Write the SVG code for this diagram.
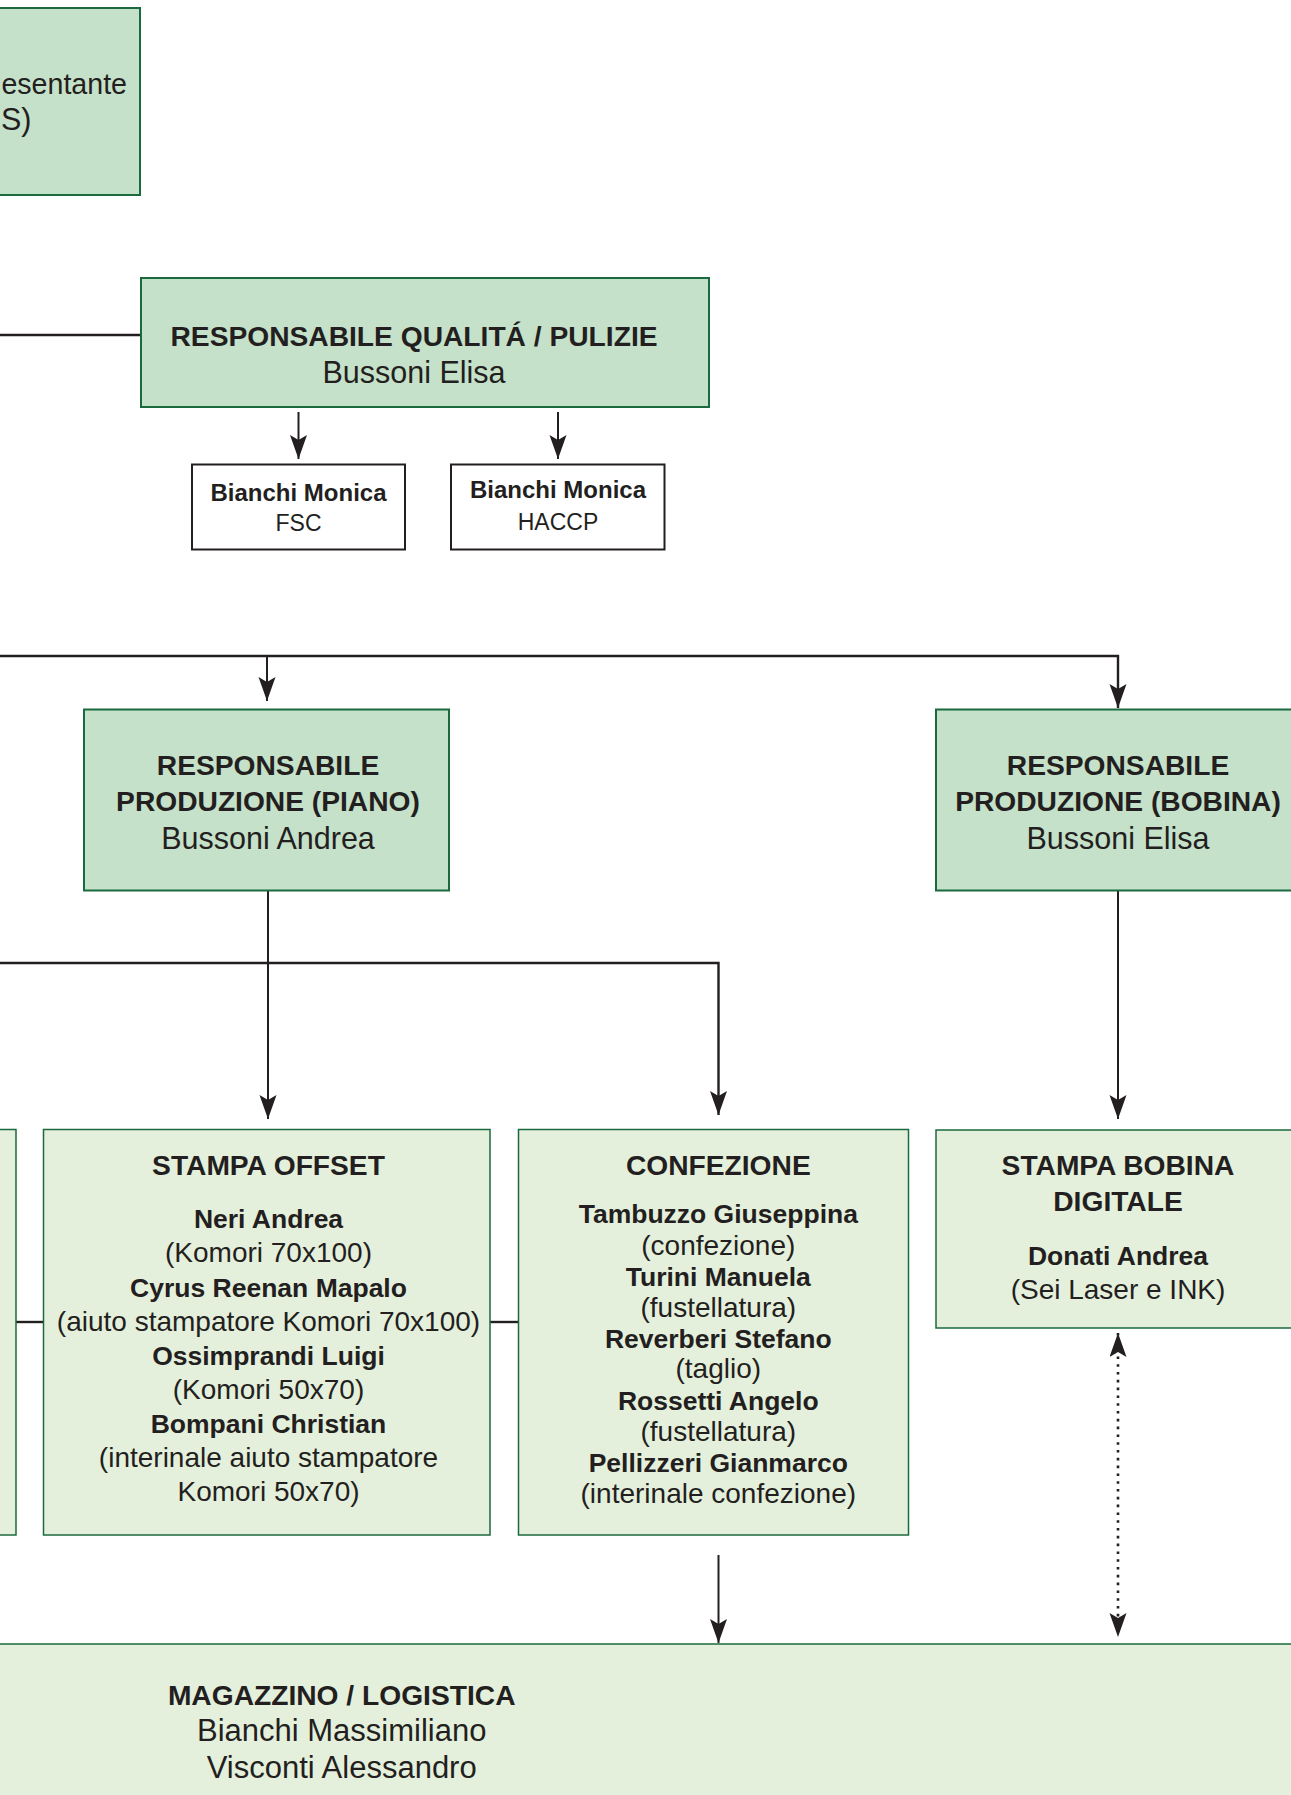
<svg xmlns="http://www.w3.org/2000/svg" width="1291" height="1795" viewBox="0 0 1291 1795">
<style>
.n1{fill:#c6e1c9;stroke:#1b6a3e;stroke-width:2}
.n2{fill:#e5f0dc;stroke:#1b6a3e;stroke-width:1.5}
.n3{fill:#ffffff;stroke:#231f20;stroke-width:2}
text{font-family:"Liberation Sans",Arial,sans-serif;fill:#231f20;text-anchor:middle}
.t{font-size:28.2px;font-weight:bold}
.nm{font-size:30.5px}
.nm2{font-size:31px}
.sb{font-size:24px;font-weight:bold}
.sr{font-size:23px}
.p{font-size:26.5px;font-weight:bold}
.d{font-size:28px}
.c{fill:none;stroke:#231f20;stroke-width:2}
.h{stroke-width:2.4}
.dot{stroke-width:2.6;stroke-dasharray:2.6 5.2}
</style>
<defs>
<marker id="ah" markerUnits="userSpaceOnUse" markerWidth="30" markerHeight="20" refX="24" refY="8.5" orient="auto-start-reverse">
<path d="M0,0 L24,8.5 L0,17 L5,8.5 Z" fill="#231f20" stroke="none"/>
</marker>
</defs>

<g id="connectors">
<path class="c h" d="M0,335 H141"/>
<path class="c" d="M298.5,412 V459" marker-end="url(#ah)"/>
<path class="c" d="M558,412 V459" marker-end="url(#ah)"/>
<path class="c h" d="M0,656 H1118 V708" marker-end="url(#ah)"/>
<path class="c" d="M267,656 V701" marker-end="url(#ah)"/>
<path class="c" d="M268,890 V1119" marker-end="url(#ah)"/>
<path class="c h" d="M0,963 H718.5 V1115" marker-end="url(#ah)"/>
<path class="c" d="M1118,890 V1119" marker-end="url(#ah)"/>
<path class="c h" d="M16,1322 H43.5"/>
<path class="c h" d="M490,1322 H518.5"/>
<path class="c" d="M718.5,1555 V1643" marker-end="url(#ah)"/>
<path class="c dot" d="M1118,1333 V1637" marker-start="url(#ah)" marker-end="url(#ah)"/>
</g>

<g id="node-rls">
<rect class="n1" x="-10" y="8" width="150" height="187"/>
<text x="127" y="94" style="text-anchor:end;font-size:28.6px">esentante</text>
<text class="nm" x="1" y="130" style="text-anchor:start">S)</text>
</g>

<g id="node-qualita">
<rect class="n1" x="141" y="278" width="568" height="129"/>
<text class="t" x="414" y="346">RESPONSABILE QUALITÁ / PULIZIE</text>
<text class="nm" x="414" y="383">Bussoni Elisa</text>
</g>

<g id="node-fsc">
<rect class="n3" x="192" y="464.5" width="213" height="85"/>
<text class="sb" x="298.5" y="501">Bianchi Monica</text>
<text class="sr" x="298.5" y="531">FSC</text>
</g>

<g id="node-haccp">
<rect class="n3" x="451" y="464.5" width="213.5" height="85"/>
<text class="sb" x="558" y="498">Bianchi Monica</text>
<text class="sr" x="558" y="530">HACCP</text>
</g>

<g id="node-piano">
<rect class="n1" x="84" y="709.5" width="365" height="181"/>
<text class="t" x="268" y="775">RESPONSABILE</text>
<text class="t" x="268" y="811">PRODUZIONE (PIANO)</text>
<text class="nm" x="268" y="849">Bussoni Andrea</text>
</g>

<g id="node-bobina">
<rect class="n1" x="936" y="709.5" width="370" height="181"/>
<text class="t" x="1118" y="775">RESPONSABILE</text>
<text class="t" x="1118" y="811">PRODUZIONE (BOBINA)</text>
<text class="nm" x="1118" y="849">Bussoni Elisa</text>
</g>

<g id="node-left">
<rect class="n2" x="-10" y="1129.5" width="26" height="405.5"/>
</g>

<g id="node-offset">
<rect class="n2" x="43.5" y="1129.5" width="446.5" height="405.5"/>
<text class="t" x="268.5" y="1174.5">STAMPA OFFSET</text>
<text class="p" x="268.5" y="1227.5">Neri Andrea</text>
<text class="d" x="268.5" y="1262">(Komori 70x100)</text>
<text class="p" x="268.5" y="1296.5">Cyrus Reenan Mapalo</text>
<text class="d" x="268.5" y="1331">(aiuto stampatore Komori 70x100)</text>
<text class="p" x="268.5" y="1364.5">Ossimprandi Luigi</text>
<text class="d" x="268.5" y="1398.5">(Komori 50x70)</text>
<text class="p" x="268.5" y="1433">Bompani Christian</text>
<text class="d" x="268.5" y="1466.5">(interinale aiuto stampatore</text>
<text class="d" x="268.5" y="1501">Komori 50x70)</text>
</g>

<g id="node-confezione">
<rect class="n2" x="518.5" y="1129.5" width="390" height="405.5"/>
<text class="t" x="718.3" y="1174.7">CONFEZIONE</text>
<text class="p" x="718.3" y="1223.3">Tambuzzo Giuseppina</text>
<text class="d" x="718.3" y="1254.7">(confezione)</text>
<text class="p" x="718.3" y="1285.7">Turini Manuela</text>
<text class="d" x="718.3" y="1316.7">(fustellatura)</text>
<text class="p" x="718.3" y="1348">Reverberi Stefano</text>
<text class="d" x="718.3" y="1378">(taglio)</text>
<text class="p" x="718.3" y="1409.7">Rossetti Angelo</text>
<text class="d" x="718.3" y="1440.7">(fustellatura)</text>
<text class="p" x="718.3" y="1472">Pellizzeri Gianmarco</text>
<text class="d" x="718.3" y="1503">(interinale confezione)</text>
</g>

<g id="node-digitale">
<rect class="n2" x="936" y="1130" width="370" height="198"/>
<text class="t" x="1118" y="1174.7">STAMPA BOBINA</text>
<text class="t" x="1118" y="1211">DIGITALE</text>
<text class="p" x="1118" y="1265">Donati Andrea</text>
<text class="d" x="1118" y="1298.7">(Sei Laser e INK)</text>
</g>

<g id="node-magazzino">
<rect class="n2" x="-10" y="1644" width="1311" height="170"/>
<text class="t" x="341.7" y="1704.6">MAGAZZINO / LOGISTICA</text>
<text class="nm2" x="341.7" y="1741">Bianchi Massimiliano</text>
<text class="nm2" x="341.7" y="1777.8">Visconti Alessandro</text>
</g>
</svg>
